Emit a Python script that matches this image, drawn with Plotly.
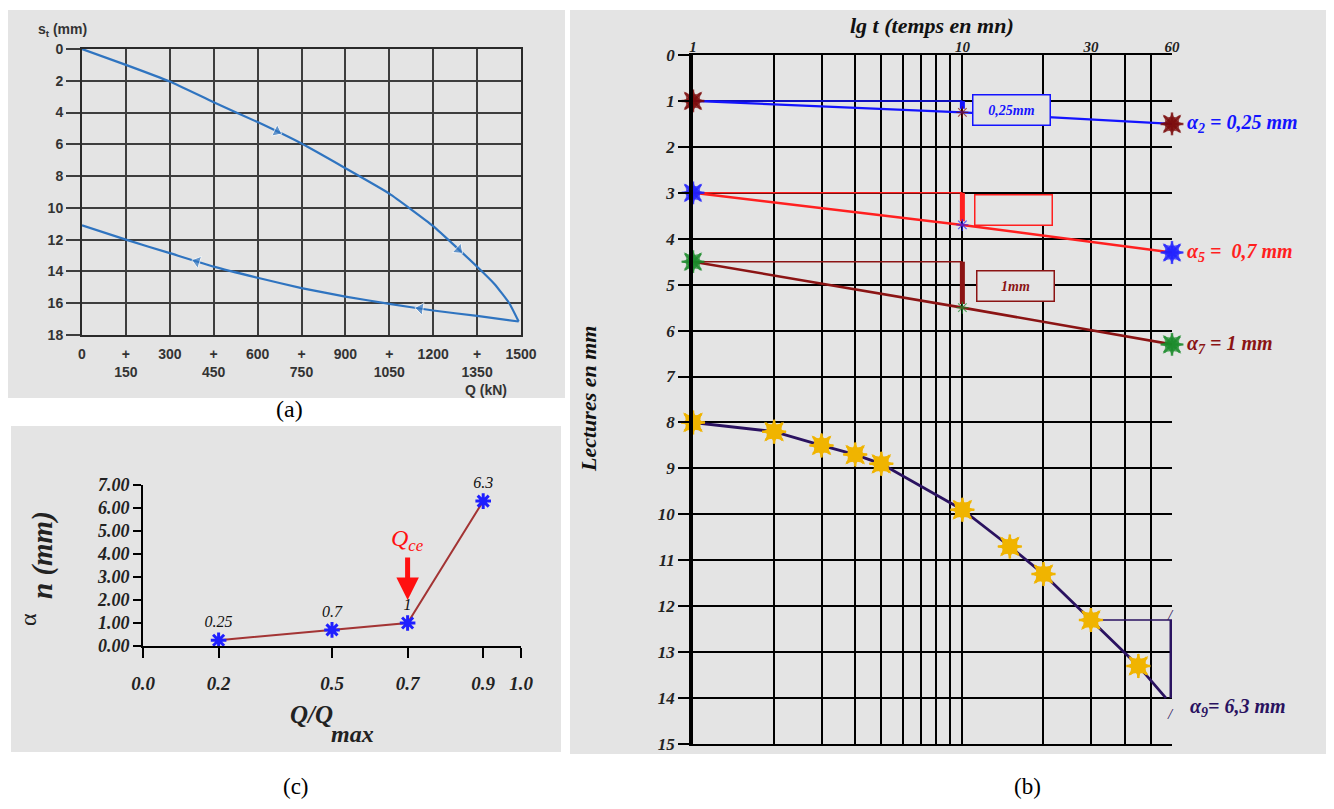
import numpy as np
import plotly.graph_objects as go

W, H = 1334, 809
OX, OY = 8, 8                 # default html body margin
FW, FH = W - 2 * OX, H - 2 * OY

# ---------------- Panel (a) : load / settlement curve ----------------
q_load = [0, 150, 300, 450, 600, 750, 900, 1050, 1200, 1350, 1410, 1460, 1492]
s_load = [0, 1.0, 2.05, 3.35, 4.6, 5.95, 7.5, 9.1, 11.15, 13.7, 14.8, 16.0, 17.15]
q_unload = [1492, 1350, 1200, 1050, 900, 750, 600, 450, 300, 150, 0]
s_unload = [17.15, 16.8, 16.46, 16.04, 15.58, 15.05, 14.4, 13.7, 12.85, 12.0, 11.1]
q_arrows_load = [666, 1287]
q_arrows_unload = [1156, 393]
a_xticks = list(range(0, 1501, 150))
a_yticks = list(range(0, 19, 2))

# ---------------- Panel (b) : readings vs log time ----------------
t_min = [1, 10, 60]
lect_a2 = [1.0, 1.25, 1.5]
lect_a5 = [3.0, 3.7, 4.3]
lect_a7 = [4.5, 5.5, 6.3]
t_a9 = [1, 2, 3, 4, 5, 10, 15, 20, 30, 45, 57]
lect_a9 = [8.0, 8.2, 8.5, 8.7, 8.9, 9.9, 10.7, 11.3, 12.3, 13.3, 14.0]
b_grid_t = [1, 2, 3, 4, 5, 6, 7, 8, 9, 10, 20, 30, 40, 50, 60]
b_labeled_t = [1, 10, 30, 60]
b_yticks = list(range(0, 16))
b_box_texts = ["0,25mm", "", "1mm", "1,9 mm"]
b_alpha_texts = ["α<sub>2</sub> = 0,25 mm", "α<sub>5</sub> =  0,7 mm",
                 "α<sub>7</sub> = 1 mm", "α<sub>9</sub>= 6,3 mm"]

# ---------------- Panel (c) : alpha_n vs Q/Qmax ----------------
q_ratio = [0.2, 0.5, 0.7, 0.9]
alpha_n = [0.25, 0.7, 1.0, 6.3]
alpha_labels = ["0.25", "0.7", "1", "6.3"]
c_xticks = [0.0, 0.2, 0.5, 0.7, 0.9, 1.0]
c_yticks = list(range(0, 8))
q_ce = 0.7

# ---------------- styles ----------------
GREY_BG = "#e4e4e4"
A_BLUE = "#2f74c0"
A_GRID = "#3d3d3d"
B_BLUE = "#1414ff"
B_RED = "#ff1f1f"
B_DRED = "#8b1414"
B_NAVY = "#2a1260"
B_GOLD = "#f0b400"
B_GREEN = "#1a8a2a"
B_STAR_DRED = "#7a0a0a"
C_LINE = "#a33434"
C_STAR = "#1f1fff"
SERIF = "Liberation Serif, Times New Roman, serif"
SANS = "Liberation Sans, Arial, sans-serif"


def px_x(px):
    return (px - OX) / FW


def px_y(py):
    return 1 - (py - OY) / FH


def fnt(size, color="black", family=SERIF, bold=False, italic=False):
    return dict(family=family, size=size, color=color,
                weight="bold" if bold else "normal",
                style="italic" if italic else "normal")


def ann(text, px, py, font, angle=0, xanchor="center", yanchor="middle"):
    return dict(text=text, xref="paper", yref="paper", x=px_x(px), y=px_y(py),
                showarrow=False, xanchor=xanchor, yanchor=yanchor,
                textangle=angle, font=font)


fig = go.Figure()

# ---------- (a) traces ----------
fig.add_trace(go.Scatter(x=q_load, y=s_load, mode="lines", xaxis="x", yaxis="y",
                         line=dict(color=A_BLUE, width=2.2, shape="spline", smoothing=0.4)))
fig.add_trace(go.Scatter(x=q_unload, y=s_unload, mode="lines", xaxis="x", yaxis="y",
                         line=dict(color=A_BLUE, width=2.2, shape="spline", smoothing=0.4)))
for qa in q_arrows_load:
    xs = [qa - 8, qa]
    fig.add_trace(go.Scatter(x=xs, y=list(np.interp(xs, q_load, s_load)), mode="markers",
                             xaxis="x", yaxis="y",
                             marker=dict(symbol="triangle-up", size=[0, 11], color=A_BLUE,
                                         angleref="previous")))
for qa in q_arrows_unload:
    xs = [qa + 8, qa]
    fig.add_trace(go.Scatter(x=xs, y=list(np.interp(xs, q_unload[::-1], s_unload[::-1])),
                             mode="markers", xaxis="x", yaxis="y",
                             marker=dict(symbol="triangle-up", size=[0, 11], color=A_BLUE,
                                         angleref="previous")))

# ---------- (b) traces ----------
b_series = [
    (lect_a2, B_BLUE, B_STAR_DRED, 2.2),
    (lect_a5, B_RED, C_STAR, 2.6),
    (lect_a7, B_DRED, B_GREEN, 2.6),
]
for lect, lc, mc, lw in b_series:
    fig.add_trace(go.Scatter(x=[t_min[0], t_min[1]], y=[lect[0], lect[0]], mode="lines",
                             xaxis="x2", yaxis="y2", line=dict(color=lc, width=1.5),
                             cliponaxis=False))
    fig.add_trace(go.Scatter(x=t_min, y=lect, mode="lines", xaxis="x2", yaxis="y2",
                             line=dict(color=lc, width=lw), cliponaxis=False))
    fig.add_trace(go.Scatter(x=[t_min[1], t_min[1]], y=[lect[0], lect[1] - 0.08], mode="lines",
                             xaxis="x2", yaxis="y2", line=dict(color=lc, width=5),
                             cliponaxis=False))
    # filled 8-point star = two 4-point stars + asterisk outline
    for sym in ["star-square", "star-diamond"]:
        fig.add_trace(go.Scatter(x=t_min, y=lect, mode="markers", xaxis="x2", yaxis="y2",
                                 cliponaxis=False,
                                 marker=dict(symbol=sym, size=[17, 0, 17], color=mc,
                                             line=dict(width=0))))
    fig.add_trace(go.Scatter(x=t_min, y=lect, mode="markers", xaxis="x2", yaxis="y2",
                             cliponaxis=False,
                             marker=dict(symbol="asterisk-open", size=[19, 10, 19],
                                         color=mc, line=dict(color=mc, width=[2.5, 1.2, 2.5]))))

fig.add_trace(go.Scatter(x=[t_a9[8], b_grid_t[-1]], y=[lect_a9[8], lect_a9[8]], mode="lines",
                         xaxis="x2", yaxis="y2", line=dict(color=B_NAVY, width=1.5),
                         cliponaxis=False))
fig.add_trace(go.Scatter(x=[b_grid_t[-1], b_grid_t[-1]], y=[lect_a9[8], lect_a9[-1]],
                         mode="lines", xaxis="x2", yaxis="y2",
                         line=dict(color=B_NAVY, width=5), cliponaxis=False))
fig.add_trace(go.Scatter(x=t_a9, y=lect_a9, mode="lines", xaxis="x2", yaxis="y2",
                         line=dict(color=B_NAVY, width=2.8), cliponaxis=False))
for sym in ["star-square", "star-diamond"]:
    fig.add_trace(go.Scatter(x=t_a9[:-1], y=lect_a9[:-1], mode="markers", xaxis="x2",
                             yaxis="y2", cliponaxis=False,
                             marker=dict(symbol=sym, size=18, color=B_GOLD, line=dict(width=0))))
fig.add_trace(go.Scatter(x=t_a9[:-1], y=lect_a9[:-1], mode="markers", xaxis="x2", yaxis="y2",
                         cliponaxis=False,
                         marker=dict(symbol="asterisk-open", size=20, color=B_GOLD,
                                     line=dict(color=B_GOLD, width=2.5))))

# ---------- (c) traces ----------
fig.add_trace(go.Scatter(x=q_ratio, y=alpha_n, mode="lines+markers+text", xaxis="x3",
                         yaxis="y3", cliponaxis=False,
                         line=dict(color=C_LINE, width=2),
                         marker=dict(symbol="asterisk-open", size=13, color=C_STAR,
                                     line=dict(color=C_STAR, width=3)),
                         text=alpha_labels, textposition="top center",
                         textfont=fnt(16, "#111", italic=True)))

# ---------- layout ----------
shapes = []
for (x0, x1, y0, y1) in [(3, 565, 10, 398), (11, 561, 426, 752), (570, 1330, 10, 754)]:
    shapes.append(dict(type="rect", xref="paper", yref="paper", x0=px_x(x0), x1=px_x(x1),
                       y0=px_y(y1), y1=px_y(y0), fillcolor=GREY_BG, line=dict(width=0),
                       layer="below"))

a_ticktext = [str(v) if i % 2 == 0 else "+<br>" + str(v) for i, v in enumerate(a_xticks)]
b_ticktext = [str(t) if t in b_labeled_t else "" for t in b_grid_t]

annotations = []
annotations.append(ann("s<sub>t</sub> (mm)", 62, 30, fnt(14, "#333", SANS, bold=True)))
annotations.append(ann("Q (kN)", 486, 390, fnt(14, "#333", SANS, bold=True)))
annotations.append(ann("(a)", 289, 409, fnt(24)))

annotations.append(ann("lg t (temps en mn)", 932, 25, fnt(22, "#111", bold=True, italic=True)))
annotations.append(ann("Lectures en mm", 588, 399, fnt(22, "#111", bold=True, italic=True),
                       angle=-90))
annotations.append(ann("(b)", 1027, 786, fnt(23)))
end_vals = [lect_a2[-1], lect_a5[-1], lect_a7[-1]]
end_cols = [B_BLUE, B_RED, B_DRED]
for txt, yv, col in zip(b_alpha_texts[:3], end_vals, end_cols):
    annotations.append(dict(text=txt, xref="x2", yref="y2", x=np.log10(t_min[-1]), y=yv,
                            xanchor="left", yanchor="middle", xshift=13, showarrow=False,
                            font=fnt(20, col, bold=True, italic=True)))
annotations.append(dict(text=b_alpha_texts[3], xref="x2", yref="y2", x=np.log10(b_grid_t[-1]),
                        y=lect_a9[-1] + 0.2, xanchor="left", yanchor="middle", xshift=16,
                        showarrow=False, font=fnt(20, B_NAVY, bold=True, italic=True)))
box_specs = [
    (1.181, 1.19, B_BLUE),
    (1.189, 3.37, B_RED),
    (1.196, 5.03, B_DRED),
    (1.848, 13.13, B_NAVY),
]
for txt, (lx, ly, col) in zip(b_box_texts, box_specs):
    annotations.append(dict(text=txt if txt else " ", xref="x2", yref="y2", x=lx, y=ly,
                            showarrow=False, width=76, height=29, bgcolor=GREY_BG,
                            bordercolor=col, borderwidth=1.5, borderpad=0,
                            font=fnt(14, col, bold=True, italic=True)))
for yv in [lect_a9[8] - 0.1, lect_a9[-1] + 0.35]:
    annotations.append(dict(text="/", xref="x2", yref="y2", x=np.log10(b_grid_t[-1]), y=yv,
                            showarrow=False, xshift=-2,
                            font=fnt(15, B_NAVY, italic=True)))

annotations.append(ann("α", 28, 620, fnt(24, "#222"), angle=-90))
annotations.append(ann("n (mm)", 42, 555, fnt(29, "#222", bold=True, italic=True), angle=-90))
annotations.append(ann("Q/Q", 311, 714, fnt(25, "#222", bold=True, italic=True)))
annotations.append(ann("max", 352, 734, fnt(24, "#222", bold=True, italic=True)))
annotations.append(ann("Q<sub>ce</sub>", 407, 540, fnt(24, "#ff1010", italic=True)))
annotations.append(dict(text="", xref="x3", yref="y3", x=q_ce, y=2.0, ax=0, ay=-44,
                        showarrow=True, arrowhead=2, arrowsize=0.9, arrowwidth=5,
                        arrowcolor="#ff1010"))
annotations.append(ann("(c)", 296, 786, fnt(23)))

fig.update_layout(
    width=FW, height=FH, autosize=False,
    margin=dict(l=0, r=0, t=0, b=0, pad=0, autoexpand=False),
    paper_bgcolor="white", plot_bgcolor="rgba(0,0,0,0)",
    showlegend=False,
    shapes=shapes,
    annotations=annotations,
    xaxis=dict(domain=[px_x(82), px_x(521)], anchor="y", range=[0, 1500], automargin=False,
               tickvals=a_xticks, ticktext=a_ticktext, ticks="",
               showgrid=True, gridcolor=A_GRID, gridwidth=1.5,
               showline=True, mirror=True, linecolor="#2a2a2a", linewidth=2,
               zeroline=False, ticklabelstandoff=5,
               tickfont=fnt(14, "#333", SANS, bold=True)),
    yaxis=dict(domain=[px_y(335), px_y(49)], anchor="x", range=[18, 0], automargin=False,
               tickvals=a_yticks, ticks="outside", ticklen=14, tickwidth=1.5,
               tickcolor=A_GRID, showgrid=True, gridcolor=A_GRID, gridwidth=1.5,
               showline=True, mirror=True, linecolor="#2a2a2a", linewidth=2,
               zeroline=False, tickfont=fnt(14, "#333", SANS, bold=True)),
    xaxis2=dict(domain=[px_x(693), px_x(1172)], anchor="y2", type="log", automargin=False,
                range=[0, np.log10(60)], side="top",
                tickvals=b_grid_t, ticktext=b_ticktext, ticks="",
                showgrid=True, gridcolor="black", gridwidth=1.5,
                showline=True, mirror=True, linecolor="black", linewidth=1.5,
                zeroline=False, ticklabelstandoff=-5,
                tickfont=fnt(15, "#222", bold=True, italic=True)),
    yaxis2=dict(domain=[px_y(744), px_y(55)], anchor="x2", range=[15, 0], automargin=False,
                tickvals=b_yticks, ticks="outside", ticklen=11, tickwidth=1.5,
                tickcolor="black", showgrid=True, gridcolor="black", gridwidth=1.5,
                showline=True, linecolor="black", linewidth=3.5, zeroline=False,
                tickfont=fnt(17, "#222", bold=True, italic=True)),
    xaxis3=dict(domain=[px_x(143), px_x(521)], anchor="y3", range=[0, 1.0], automargin=False,
                tickvals=c_xticks, tickformat=".1f", ticks="outside", ticklen=10,
                tickwidth=2, tickcolor="black", showline=True, linecolor="black",
                linewidth=2, showgrid=False, zeroline=False, ticklabelstandoff=9,
                tickfont=fnt(19, "#222", bold=True, italic=True)),
    yaxis3=dict(domain=[px_y(646), px_y(485)], anchor="x3", range=[0, 7], automargin=False,
                tickvals=c_yticks, tickformat=".2f", ticks="outside", ticklen=8,
                tickwidth=2, tickcolor="black", showline=True, linecolor="black",
                linewidth=2, showgrid=False, zeroline=False,
                tickfont=fnt(18, "#222", bold=True, italic=True)),
)

fig.write_html("out.html", config={"displayModeBar": False})
